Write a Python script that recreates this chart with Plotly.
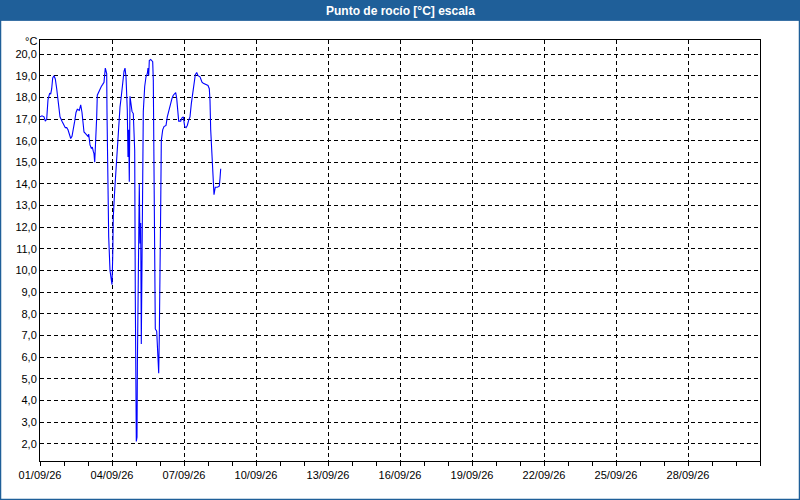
import pandas as pd
import plotly.graph_objects as go

# dew point readings, hours after 01/09/26 00:00
hours = [0, 2, 4, 5.3, 6.7, 8, 9.7, 10.7, 11.7, 12.7, 14, 15.3, 16.7, 18, 18.7, 20, 22, 24,
         25.3, 26.7, 28, 29.7, 30.7, 32, 33.3, 34.7, 36, 37.3, 39.3, 40.7, 42, 43, 44, 46, 48,
         48.7, 50, 51.3, 52.3, 53.3, 54, 54.7, 55.3, 56, 56.7, 57.3, 58.7, 60, 61.3, 62.7, 64,
         65.3, 66.7, 67, 68, 68.7, 70, 71, 72, 72.7, 73.3, 74.7, 76, 77.3, 78.7, 80, 81.3, 82.7,
         84, 85, 86, 87.3, 88, 88.7, 89.3, 90, 91.3, 92, 93.3, 94.7, 95.3, 96, 96.3, 97, 97.4,
         98.7, 99.3, 100, 100.7, 101.3, 102, 102.7, 103.3, 104.7, 106, 107.3, 108, 108.7, 109.3,
         110.7, 112.7, 113.3, 114, 114.7, 115.3, 116.7, 117.3, 118.7, 119.3, 120, 120.7, 121.3,
         122.7, 124, 126, 127.3, 128.7, 130, 132, 133.3, 134.7, 135.7, 136.7, 138, 138.7, 140.7,
         142, 143.3, 144, 144.7, 146, 147.3, 148.7, 150, 151.3, 152.7, 154, 155.3, 156.7, 158,
         160, 162, 163.3, 165.3, 168, 169.3, 170, 170.7, 172, 172.7, 173.3, 174, 174.7, 175.3,
         177.3, 179.3, 180, 180.7]
dew_point = [17.1, 17.15, 17.1, 16.9, 17.0, 17.9, 18.2, 18.15, 18.4, 18.9, 19.0, 18.85, 18.4,
             17.9, 17.4, 17.1, 16.9, 16.7, 16.6, 16.6, 16.5, 16.25, 16.1, 16.2, 16.5, 16.9, 17.3,
             17.45, 17.4, 17.65, 17.3, 16.85, 16.4, 16.3, 16.2, 16.3, 15.8, 15.65, 15.7, 15.5,
             15.4, 15.0, 15.55, 16.0, 17.1, 18.1, 18.25, 18.4, 18.5, 18.6, 18.7, 19.35, 19.1,
             17.3, 13.7, 11.55, 10.0, 9.7, 9.35, 10.6, 12.5, 13.7, 14.8, 15.9, 16.5, 17.55, 18.05,
             18.8, 19.2, 19.35, 18.95, 17.4, 15.25, 16.5, 14.1, 18.05, 17.6, 17.35, 17.25, 15.55,
             8.8, 5.7, 2.1, 2.3, 5.7, 11.25, 14.0, 11.25, 12.2, 6.6, 10.9, 15.25, 17.35, 18.5,
             18.95, 19.1, 19.35, 19.0, 19.7, 19.75, 19.65, 18.8, 13.7, 9.4, 7.3, 7.2, 6.7, 5.25,
             7.0, 12.2, 12.9, 16.0, 16.5, 16.65, 16.7, 17.1, 17.4, 17.65, 17.95, 18.1, 18.2,
             18.22, 17.95, 17.25, 16.9, 16.9, 17.05, 17.1, 16.85, 16.65, 16.6, 16.7, 16.95, 17.1,
             17.7, 18.2, 18.8, 19.05, 19.15, 19.0, 18.95, 18.7, 18.65, 18.6, 18.55, 18.4, 17.85,
             16.5, 15.4, 14.55, 13.85, 13.5, 13.7, 13.85, 13.85, 13.9, 14.25, 14.7]

start = pd.Timestamp("2026-09-01")
end = pd.Timestamp("2026-10-01")
times = start + pd.to_timedelta(hours, unit="h")
x_ticks = pd.date_range(start, "2026-09-28", freq="3D")
y_ticks = list(range(2, 21))

W, H = 800, 500
ML, MR, MT, MB = 40, 40, 40, 39
pw, ph = W - ML - MR, H - MT - MB
blue = "#1f5f99"
font = "Liberation Sans"

fig = go.Figure(go.Scatter(x=times, y=dew_point, mode="lines",
                           line=dict(color="#0000ff", width=1.1), hoverinfo="x+y"))


# window frame: title bar + thin border (pixel -> paper coords)
def px_x(p):
    return (p - ML) / pw


def px_y(p):
    return (H - MB - p) / ph


fig.add_shape(type="rect", xref="paper", yref="paper",
              x0=px_x(0.5), x1=px_x(W - 0.5), y0=px_y(H - 0.5), y1=px_y(20),
              line=dict(color=blue, width=1.5), fillcolor="rgba(0,0,0,0)", layer="below")
fig.add_shape(type="rect", xref="paper", yref="paper",
              x0=px_x(0), x1=px_x(W), y0=px_y(20.5), y1=px_y(0),
              line=dict(width=0), fillcolor=blue, layer="below")
fig.add_annotation(text="<b>Punto de rocío [°C] escala</b>", xref="paper", yref="paper",
                   x=px_x(400), y=px_y(10.5), xanchor="center", yanchor="middle", showarrow=False,
                   font=dict(color="white", size=12, family=font))
fig.add_annotation(text="°C", xref="paper", yref="paper", x=px_x(38), y=px_y(41),
                   xanchor="right", yanchor="middle", showarrow=False, borderpad=0,
                   font=dict(size=11, family=font, color="#000"))

fig.update_layout(
    width=W, height=H,
    margin=dict(l=ML, r=MR, t=MT, b=MB, autoexpand=False),
    paper_bgcolor="white", plot_bgcolor="white",
    separators=",.",
    showlegend=False,
    font=dict(family=font, size=11, color="black"),
)
fig.update_xaxes(
    type="date", range=[start, end], automargin=False,
    tickvals=x_ticks, tickformat="%d/%m/%y",
    showgrid=True, gridcolor="black", gridwidth=1, griddash="4px,3px",
    showline=True, linecolor="black", linewidth=1, mirror=True,
    ticks="outside", ticklen=4, tickcolor="black",
    minor=dict(dtick=86400000, tick0=start, ticks="outside", ticklen=4, tickcolor="black", showgrid=False),
    zeroline=False,
)
fig.update_yaxes(
    range=[1.2, 20.65], automargin=False,
    tickvals=y_ticks, tickformat=".1f",
    showgrid=True, gridcolor="black", gridwidth=1, griddash="4px,3px",
    showline=True, linecolor="black", linewidth=1, mirror=True,
    ticks="", zeroline=False,
)

# the page's default body margin would push the 800x500 figure off the window
fig.write_html("out.html", config={"displayModeBar": False},
               post_script="document.body.style.margin='0';")
